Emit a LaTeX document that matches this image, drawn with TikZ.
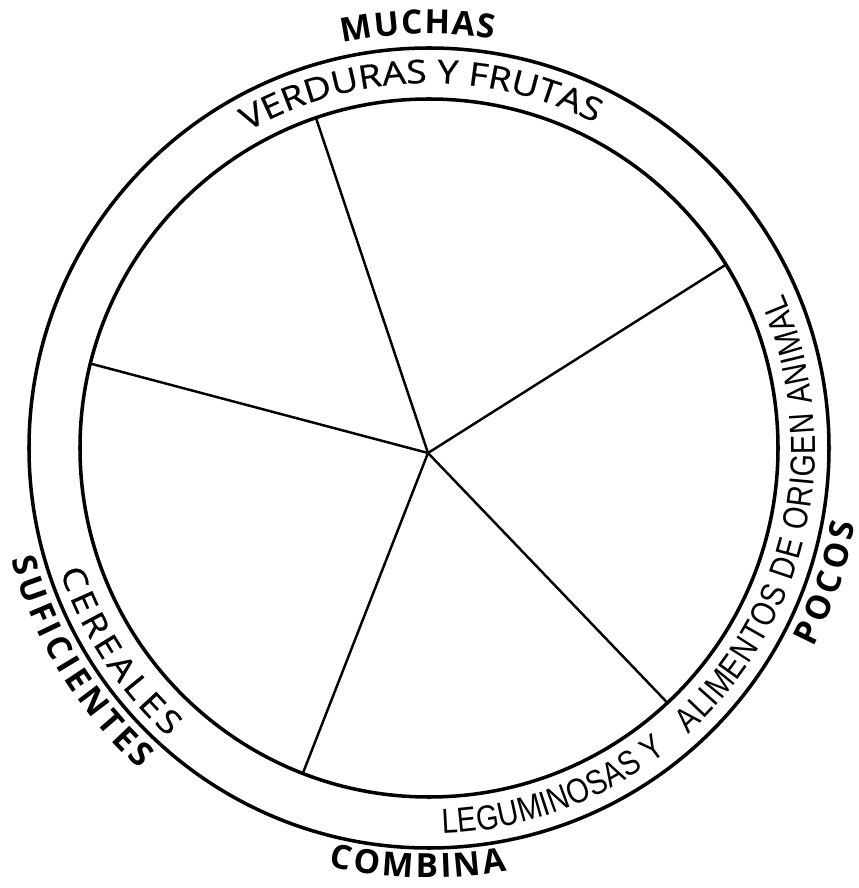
\documentclass[tikz,border=0pt]{standalone}
\usepackage{fontspec}
\usepackage{tikz}
\usetikzlibrary{decorations.text}
\newfontfamily\bandfamily{Open Sans}[FakeStretch=1.15, FakeBold=0.6]
\newfontfamily\tagfamily{Open Sans}
\newfontfamily\legfamily{Liberation Sans}[FakeStretch=0.83]
\newcommand{\bandfont}{\bandfamily\fontsize{18.5}{18.5}\selectfont}
\newcommand{\tagfont}{\tagfamily\bfseries\fontsize{19}{19}\selectfont}
\newcommand{\legfont}{\legfamily\fontsize{19.8}{19.8}\selectfont}
\tikzset{
    ring/.style={line width=2pt, draw=black},
    spoke/.style={line width=1.4pt, draw=black},
    arctext/.style={decorate, decoration={text along path, text={#1}, text align=fit to path}}
}
\begin{document}
\begin{tikzpicture}[x=0.02cm, y=0.02cm]
    \useasboundingbox (-429,-440) rectangle (429,448);
    % plate
    \coordinate (centre) at (0,0);
    \draw [ring] (centre) circle [radius=400];
    \draw [ring] (centre) circle [radius=349];
    % spokes
    \coordinate (hub) at (-1,-5);
    \coordinate (v1) at (108.9:349);
    \coordinate (v2) at (31.7:349);
    \coordinate (v3) at (-46.9:349);
    \coordinate (v4) at (-111.2:349);
    \coordinate (v5) at (166:349);
    \foreach \v in {v1,v2,v3,v4,v5}
        \draw [spoke] (hub) -- (\v);
    % band labels
    \path [arctext={|\bandfont|VERDURAS Y FRUTAS}] (119.8:365) arc [start angle=119.8, end angle=63.2, radius=365];
    \path [arctext={|\bandfont|CEREALES}] (198.5:389) arc [start angle=198.5, end angle=228, radius=389];
    \path [arctext={|\legfont|LEGUMINOSAS Y}] (272:386) arc [start angle=272, end angle=308, radius=386];
    \path [arctext={|\legfont|ALIMENTOS DE ORIGEN ANIMAL}] (-47.8:386) arc [start angle=-47.8, end angle=23.5, radius=386];
    % outer labels
    \path [arctext={|\tagfont|MUCHAS}] (102:414) arc [start angle=102, end angle=81, radius=414];
    \path [arctext={|\tagfont|SUFICIENTES}] (195:432) arc [start angle=195, end angle=228, radius=432];
    \path [arctext={|\tagfont|COMBINA}] (256.5:430) arc [start angle=256.5, end angle=280.5, radius=430];
    \path [arctext={|\tagfont|POCOS}] (-27.5:433) arc [start angle=-27.5, end angle=-10, radius=433];
\end{tikzpicture}
\end{document}
